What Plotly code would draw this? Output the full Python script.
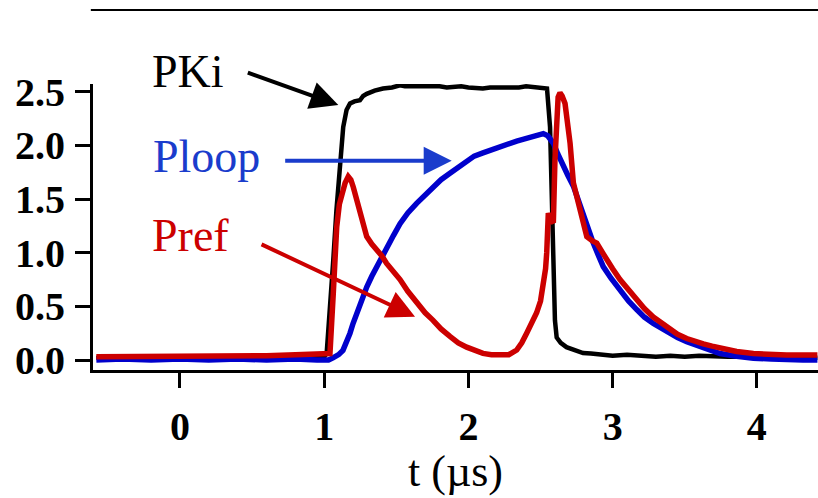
import plotly.graph_objects as go

# ---------------- data ----------------
t_pki = [-0.58, -0.5, -0.4, -0.3, -0.2, -0.1, 0.0, 0.1, 0.2, 0.3, 0.4, 0.5, 0.6, 0.7, 0.8,
         0.9, 1.0, 1.017, 1.04, 1.063, 1.085, 1.11, 1.132, 1.155, 1.179, 1.21, 1.248, 1.27,
         1.295, 1.35, 1.408, 1.47, 1.526, 1.56, 1.6, 1.65, 1.7, 1.75, 1.8, 1.85, 1.9, 1.95,
         2.0, 2.05, 2.1, 2.15, 2.2, 2.25, 2.3, 2.35, 2.4, 2.45, 2.5, 2.545, 2.566, 2.578,
         2.587, 2.60, 2.612, 2.64, 2.68, 2.74, 2.795, 2.85, 2.91, 3.0, 3.1, 3.2, 3.3, 3.4,
         3.5, 3.6, 3.7, 3.8, 3.97, 4.1, 4.3, 4.42]
pki = [0.02, 0.03, 0.02, 0.01, 0.02, 0.03, 0.02, 0.01, 0.03, 0.02, 0.02, 0.03, 0.03, 0.02,
       0.02, 0.03, 0.03, 0.06, 0.45, 0.93, 1.40, 1.86, 2.17, 2.33, 2.39, 2.41, 2.42, 2.46,
       2.48, 2.51, 2.53, 2.54, 2.56, 2.55, 2.55, 2.56, 2.56, 2.55, 2.55, 2.54, 2.55, 2.55,
       2.54, 2.53, 2.53, 2.54, 2.54, 2.53, 2.53, 2.54, 2.55, 2.54, 2.54, 2.53, 2.17, 1.56,
       0.93, 0.37, 0.21, 0.16, 0.12, 0.09, 0.065, 0.06, 0.05, 0.04, 0.05, 0.04, 0.03, 0.04,
       0.03, 0.04, 0.03, 0.03, 0.03, 0.02, 0.02, 0.02]

t_ploop = [-0.58, -0.4, -0.2, 0.0, 0.2, 0.4, 0.6, 0.8, 0.95, 1.03, 1.061, 1.10, 1.13, 1.155,
           1.179, 1.2, 1.225, 1.26, 1.295, 1.33, 1.364, 1.4, 1.433, 1.48, 1.526, 1.58, 1.641,
           1.7, 1.755, 1.81, 1.872, 1.93, 1.988, 2.04, 2.101, 2.16, 2.219, 2.28, 2.335, 2.39,
           2.448, 2.49, 2.519, 2.55, 2.589, 2.62, 2.658, 2.69, 2.728, 2.76, 2.797, 2.83, 2.866,
           2.9, 2.935, 2.99, 3.051, 3.11, 3.167, 3.22, 3.282, 3.34, 3.398, 3.45, 3.514, 3.57,
           3.629, 3.69, 3.745, 3.86, 3.976, 4.1, 4.207, 4.32, 4.42]
ploop = [0.0, 0.01, 0.0, 0.01, 0.0, 0.01, 0.0, 0.01, 0.0, 0.0, 0.02, 0.05, 0.09, 0.16,
         0.25, 0.34, 0.44, 0.56, 0.68, 0.78, 0.87, 0.96, 1.05, 1.16, 1.27, 1.37, 1.46,
         1.54, 1.61, 1.68, 1.74, 1.80, 1.86, 1.90, 1.93, 1.96, 1.99, 2.02, 2.04, 2.06,
         2.08, 2.09, 2.11, 2.09, 2.02, 1.92, 1.80, 1.72, 1.62, 1.49, 1.34, 1.21, 1.09,
         0.98, 0.87, 0.76, 0.65, 0.55, 0.47, 0.40, 0.34, 0.29, 0.25, 0.21, 0.17, 0.14,
         0.11, 0.085, 0.06, 0.035, 0.016, 0.01, 0.0, 0.0, 0.0]

t_pref = [-0.58, -0.4, -0.2, 0.0, 0.2, 0.4, 0.6, 0.8, 1.0, 1.04, 1.063, 1.087, 1.105, 1.121,
          1.145, 1.167, 1.185, 1.202, 1.225, 1.248, 1.27, 1.295, 1.33, 1.364, 1.4, 1.433,
          1.48, 1.526, 1.58, 1.641, 1.7, 1.755, 1.81, 1.872, 1.93, 1.988, 2.04, 2.101, 2.16,
          2.219, 2.28, 2.335, 2.37, 2.404, 2.44, 2.473, 2.50, 2.519, 2.535, 2.543, 2.554,
          2.57, 2.589, 2.600, 2.612, 2.622, 2.635, 2.65, 2.670, 2.69, 2.705, 2.728, 2.75,
          2.774, 2.80, 2.821, 2.86, 2.890, 2.93, 2.959, 3.0, 3.051, 3.11, 3.167, 3.22, 3.282,
          3.34, 3.398, 3.45, 3.514, 3.57, 3.629, 3.69, 3.745, 3.86, 3.976, 4.1, 4.207, 4.32, 4.42]
pref = [0.03, 0.03, 0.04, 0.03, 0.04, 0.04, 0.04, 0.05, 0.05, 0.06, 0.62, 1.24, 1.45, 1.55,
        1.65, 1.71, 1.68, 1.61, 1.50, 1.37, 1.25, 1.15, 1.08, 1.03, 0.97, 0.90, 0.83, 0.75,
        0.64, 0.53, 0.44, 0.37, 0.29, 0.22, 0.16, 0.12, 0.09, 0.062, 0.05, 0.047, 0.05,
        0.093, 0.16, 0.25, 0.34, 0.44, 0.55, 0.68, 0.85, 1.0, 1.37, 1.30, 1.28, 1.86, 2.33,
        2.45, 2.49, 2.46, 2.39, 2.20, 2.02, 1.65, 1.52, 1.40, 1.27, 1.15, 1.11, 1.09, 1.00,
        0.93, 0.85, 0.75, 0.65, 0.56, 0.48, 0.40, 0.34, 0.28, 0.24, 0.20, 0.17, 0.15, 0.13,
        0.11, 0.08, 0.06, 0.05, 0.047, 0.047, 0.047]

x_ticks = [0, 1, 2, 3, 4]
y_ticks = [0.0, 0.5, 1.0, 1.5, 2.0, 2.5]
y_tick_text = ["0.0", "0.5", "1.0", "1.5", "2.0", "2.5"]

BLACK = "#000000"
BLUE = "#0000cc"
BLUE_TXT = "#1a3ccc"
RED = "#cc0000"
SERIF = "Liberation Serif"

fig = go.Figure()
fig.add_trace(go.Scatter(x=t_pki, y=pki, mode="lines", name="PKi",
                         line=dict(color=BLACK, width=4.5)))
fig.add_trace(go.Scatter(x=t_ploop, y=ploop, mode="lines", name="Ploop",
                         line=dict(color=BLUE, width=5.5)))
fig.add_trace(go.Scatter(x=t_pref, y=pref, mode="lines", name="Pref",
                         line=dict(color=RED, width=5.5)))

# labels (paper coordinates)
for txt, xx, yy, col in [("PKi", 0.0786, 1.042, BLACK),
                         ("Ploop", 0.080, 0.745, BLUE_TXT),
                         ("Pref", 0.0786, 0.472, RED)]:
    fig.add_annotation(x=xx, y=yy, xref="paper", yref="paper", text=txt, showarrow=False,
                       xanchor="left", yanchor="middle",
                       font=dict(family=SERIF, size=46, color=col))

# arrows (tip in data coords, tail as pixel offset)
for xx, yy, ax, ay, col in [(1.098, 2.376, -92, -33, BLACK),
                            (1.884, 1.857, -168, 0, BLUE_TXT),
                            (1.630, 0.404, -155, -73, RED)]:
    fig.add_annotation(x=xx, y=yy, xref="x", yref="y", ax=ax, ay=ay, text="",
                       showarrow=True, arrowhead=2, arrowsize=1.4, arrowwidth=4,
                       arrowcolor=col, standoff=0)

# axis title as annotation for exact placement
fig.add_annotation(x=0.5, y=-0.4476, xref="paper", yref="paper", text="t (µs)",
                   showarrow=False, xanchor="center", yanchor="bottom",
                   font=dict(family=SERIF, size=44, color=BLACK))

fig.add_shape(type="line", xref="paper", yref="paper", x0=-0.003, x1=1, y0=1.2587, y1=1.2587,
              line=dict(color=BLACK, width=2))

fig.update_layout(
    width=818, height=498,
    margin=dict(l=93, r=0, t=84, b=128),
    paper_bgcolor="white", plot_bgcolor="white",
    showlegend=False,
    font=dict(family=SERIF, color=BLACK),
)
fig.update_xaxes(range=[-0.603, 4.424], tickvals=x_ticks, showgrid=False, zeroline=False,
                 showline=True, linecolor=BLACK, linewidth=3,
                 ticks="outside", ticklen=15, tickwidth=3, tickcolor=BLACK,
                 tickfont=dict(family=SERIF, size=40, weight="bold", color=BLACK),
                 ticklabelstandoff=4, automargin=False)
fig.update_yaxes(range=[-0.093, 2.572], tickvals=y_ticks, ticktext=y_tick_text,
                 showgrid=False, zeroline=False,
                 showline=True, linecolor=BLACK, linewidth=3,
                 ticks="outside", ticklen=15, tickwidth=3, tickcolor=BLACK,
                 tickfont=dict(family=SERIF, size=40, weight="bold", color=BLACK),
                 ticklabelstandoff=2, automargin=False)

fig.write_html(
    "out.html",
    config={"displayModeBar": False},
    post_script=("document.documentElement.style.overflow='hidden';"
                 "document.body.style.margin='0';"
                 "document.body.style.overflow='hidden';"),
)
